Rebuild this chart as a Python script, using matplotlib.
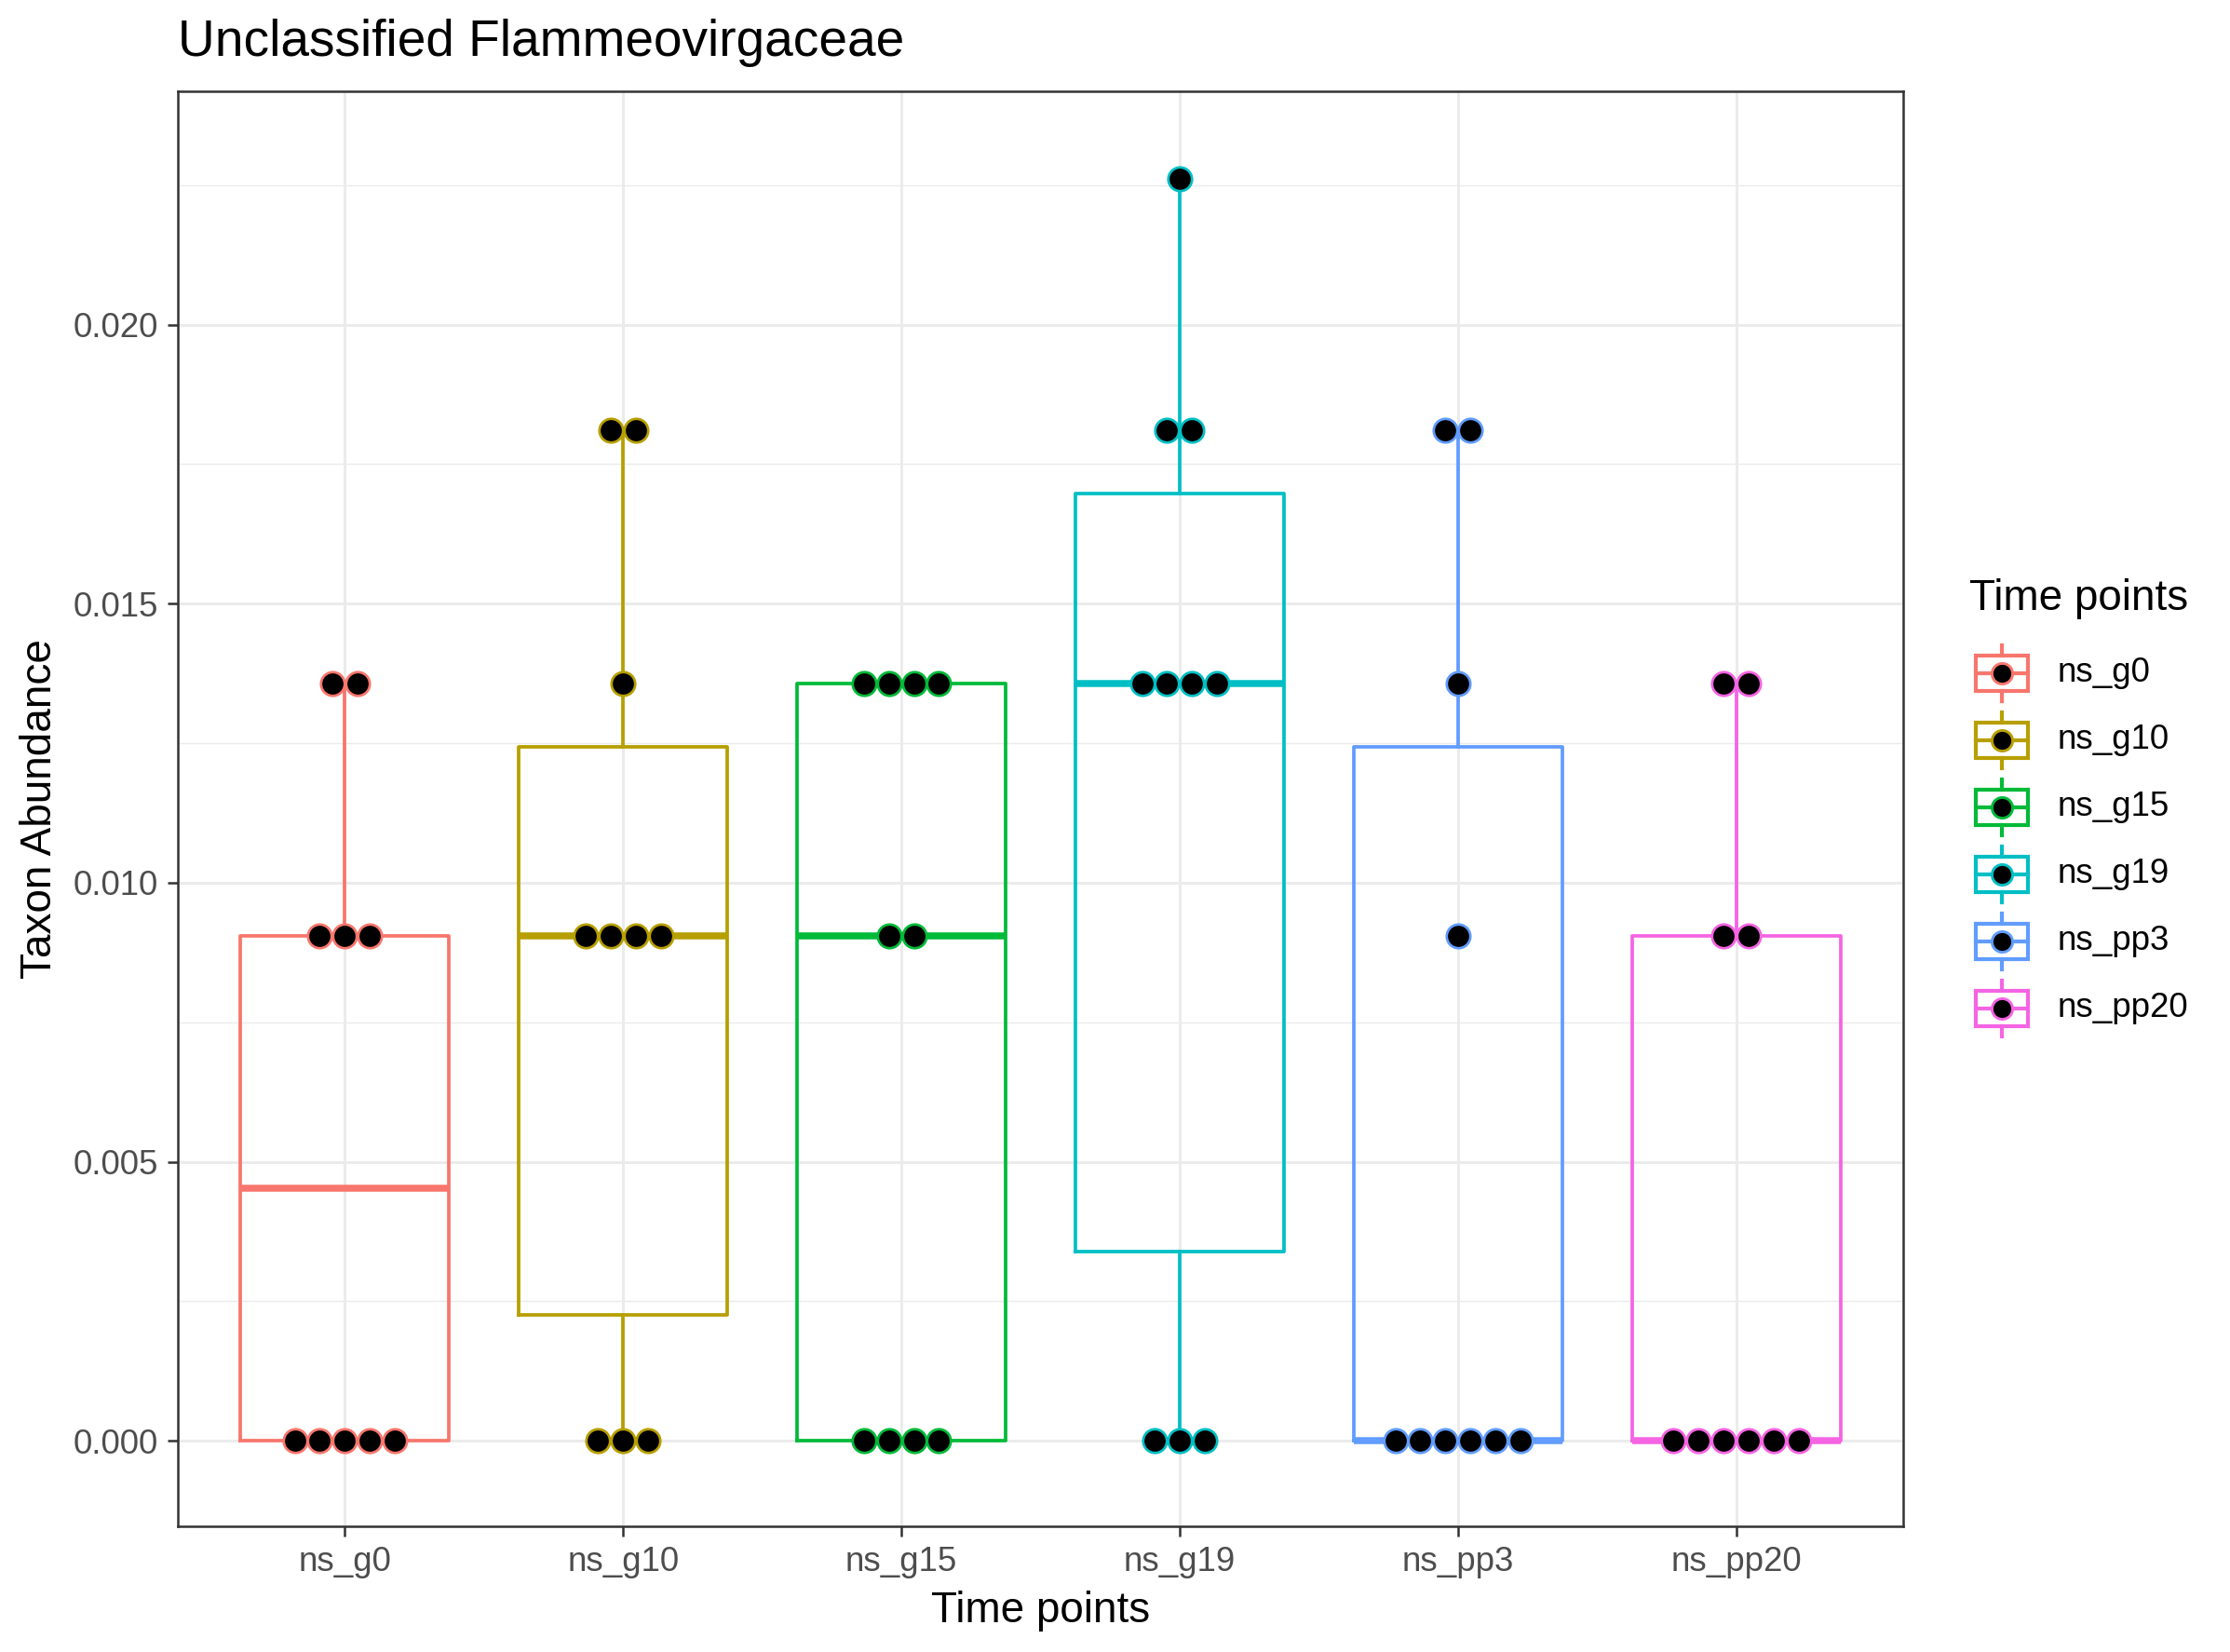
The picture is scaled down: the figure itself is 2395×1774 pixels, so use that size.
import matplotlib
matplotlib.use("Agg")
import matplotlib.pyplot as plt
import numpy as np
from matplotlib.patches import Rectangle
from matplotlib.lines import Line2D

plt.rcParams['font.family'] = ['Liberation Sans', 'DejaVu Sans']

# datos
grupos = ['ns_g0', 'ns_g10', 'ns_g15', 'ns_g19', 'ns_pp3', 'ns_pp20']
colores = ['#F8766D', '#B79F00', '#00BA38', '#00BFC4', '#619CFF', '#F564E3']

ns_g0 = [0.0, 0.0, 0.0, 0.0, 0.0, 0.00905, 0.00905, 0.00905, 0.01357, 0.01357]
ns_g10 = [0.0, 0.0, 0.0, 0.00905, 0.00905, 0.00905, 0.00905, 0.01357, 0.0181, 0.0181]
ns_g15 = [0.0, 0.0, 0.0, 0.0, 0.00905, 0.00905, 0.01357, 0.01357, 0.01357, 0.01357]
ns_g19 = [0.0, 0.0, 0.0, 0.01357, 0.01357, 0.01357, 0.01357, 0.0181, 0.0181, 0.02262]
ns_pp3 = [0.0, 0.0, 0.0, 0.0, 0.0, 0.0, 0.00905, 0.01357, 0.0181, 0.0181]
ns_pp20 = [0.0, 0.0, 0.0, 0.0, 0.0, 0.0, 0.00905, 0.00905, 0.01357, 0.01357]
valores = [ns_g0, ns_g10, ns_g15, ns_g19, ns_pp3, ns_pp20]

W, H = 2395, 1774
fig = plt.figure(figsize=(W / 300, H / 300), dpi=300)
# panel en pixeles: izq 191, der 2044, arriba 98, abajo 1639
ax = fig.add_axes([191 / W, 1 - 1639 / H, (2044 - 191) / W, (1639 - 98) / H])

posiciones = np.arange(1, len(grupos) + 1)
bp = ax.boxplot(valores, positions=posiciones, widths=0.75, showcaps=False,
                showfliers=False, whis=1.5, patch_artist=False,
                boxprops=dict(linewidth=0.9), whiskerprops=dict(linewidth=0.9),
                medianprops=dict(linewidth=1.8, solid_capstyle='butt'))
for i, c in enumerate(colores):
    bp['boxes'][i].set_color(c)
    bp['medians'][i].set_color(c)
    bp['whiskers'][2 * i].set_color(c)
    bp['whiskers'][2 * i + 1].set_color(c)

# dotplot apilado al centro
paso = 0.09
for i, (vals, c) in enumerate(zip(valores, colores)):
    unicos, cuentas = np.unique(vals, return_counts=True)
    for v, n in zip(unicos, cuentas):
        xs = posiciones[i] + (np.arange(n) - (n - 1) / 2) * paso
        ax.plot(xs, [v] * n, linestyle='none', marker='o', markersize=6.1,
                markerfacecolor='black', markeredgecolor=c, markeredgewidth=0.65,
                zorder=5)

ax.set_xlim(0.4, 6.6)
ax.set_ylim(-0.00153, 0.02418)
ax.set_xticks(posiciones)
ax.set_xticklabels(grupos)
ax.set_yticks([0.0, 0.005, 0.010, 0.015, 0.020])
ax.set_yticklabels(['0.000', '0.005', '0.010', '0.015', '0.020'])
ax.set_yticks([0.0025, 0.0075, 0.0125, 0.0175, 0.0225], minor=True)
ax.tick_params(axis='both', which='major', labelsize=8.8, labelcolor='#4D4D4D',
               color='#333333', length=2.75, width=0.6, pad=2.2)
ax.tick_params(axis='y', which='minor', length=0)
ax.grid(True, which='major', color='#EBEBEB', linewidth=0.7)
ax.grid(True, which='minor', axis='y', color='#EBEBEB', linewidth=0.35)
ax.set_axisbelow(True)
for s in ax.spines.values():
    s.set_color('#333333')
    s.set_linewidth(0.6)

ax.set_xlabel('Time points', fontsize=11, va='center')
ax.xaxis.set_label_coords(0.5, -0.059)
ax.set_ylabel('Taxon Abundance', fontsize=11, va='center')
ax.yaxis.set_label_coords((43 - 191) / (2044 - 191), 0.5)

fig.text(191 / W, 1 - 46 / H, 'Unclassified Flammeovirgaceae', fontsize=13.2,
         ha='left', va='center')

# leyenda manual en pixeles
lax = fig.add_axes([0, 0, 1, 1], zorder=10)
lax.set_xlim(0, W)
lax.set_ylim(H, 0)
lax.axis('off')
lax.patch.set_alpha(0)
lax.text(2115, 643, 'Time points', fontsize=11, ha='left', va='center')
ys_ley = [723, 795, 867, 939, 1011, 1083]
for g, c, yc in zip(grupos, colores, ys_ley):
    lax.add_patch(Rectangle((2122, yc - 19), 56, 38, fill=False, edgecolor=c,
                            linewidth=1.0))
    lax.add_line(Line2D([2150, 2150], [yc - 30, yc - 19], color=c, linewidth=1.0))
    lax.add_line(Line2D([2150, 2150], [yc + 19, yc + 30], color=c, linewidth=1.0))
    lax.add_line(Line2D([2122, 2178], [yc, yc], color=c, linewidth=1.0))
    lax.plot([2150], [yc], marker='o', markersize=5.3, markerfacecolor='black',
             markeredgecolor=c, markeredgewidth=0.7)
    lax.text(2210, yc, g, fontsize=8.8, ha='left', va='center')

fig.savefig('out.png', dpi=300)
